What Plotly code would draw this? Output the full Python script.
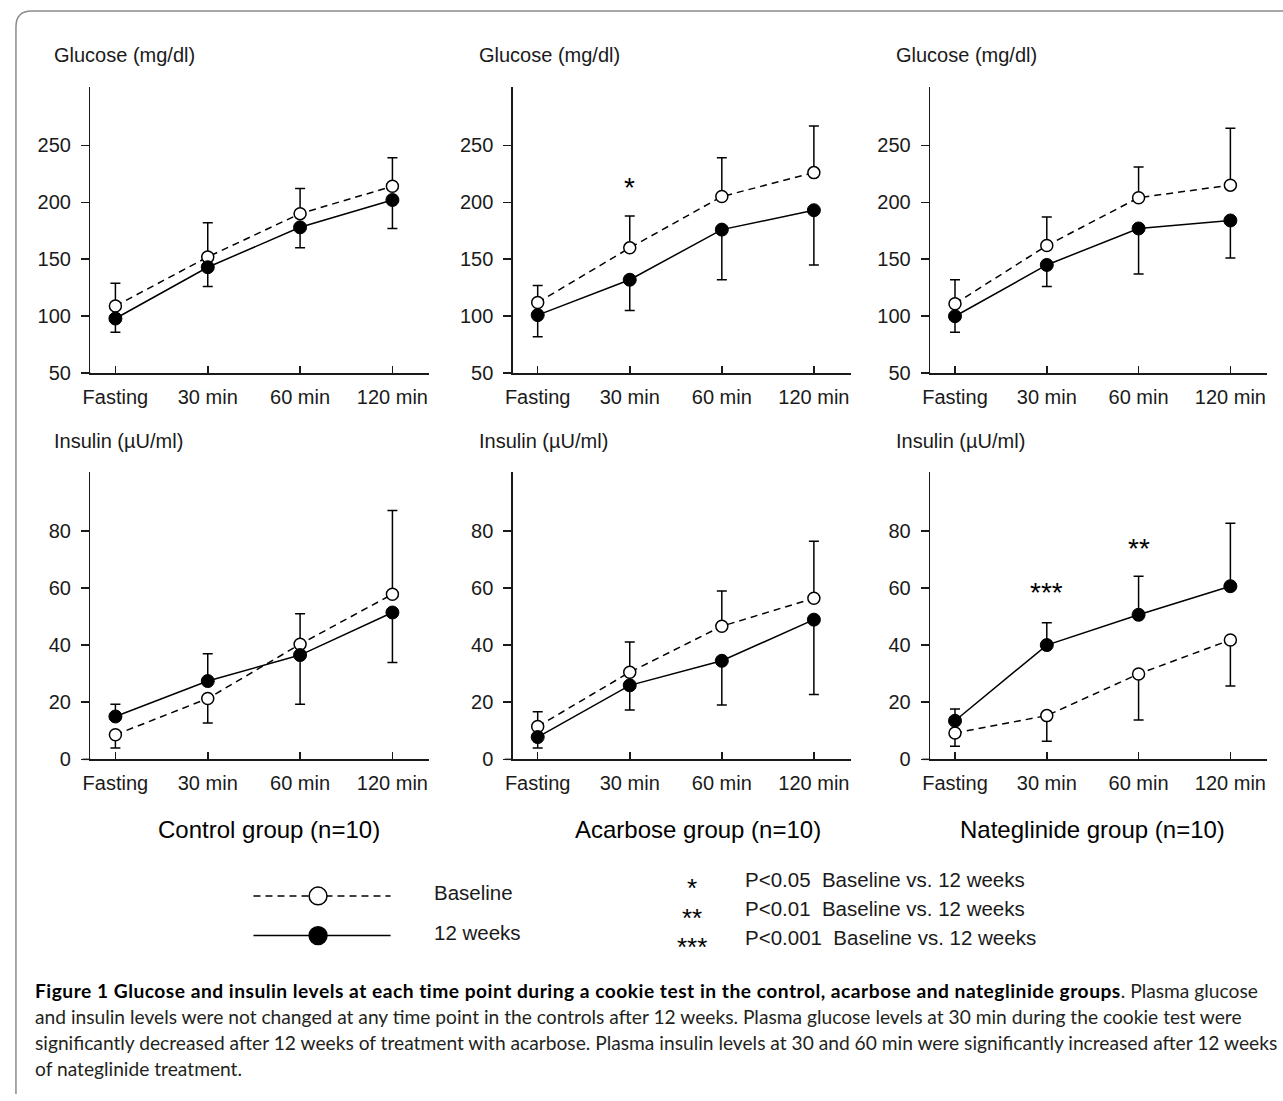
import plotly.graph_objects as go

W, H = 1283, 1101

# ---------------- data ----------------
categories = ["Fasting", "30 min", "60 min", "120 min"]
glucose_ticks = [50, 100, 150, 200, 250]
insulin_ticks = [0, 20, 40, 60, 80]

# Glucose (mg/dl): means and one-sided error extents
control_glu_base = [109, 152, 190, 214]
control_glu_base_err = [20, 30, 22, 25]
control_glu_12w = [98, 143, 178, 202]
control_glu_12w_err = [12, 17, 18, 25]

acarbose_glu_base = [112, 160, 205, 226]
acarbose_glu_base_err = [15, 28, 34, 41]
acarbose_glu_12w = [101, 132, 176, 193]
acarbose_glu_12w_err = [19, 27, 44, 48]

nateglinide_glu_base = [111, 162, 204, 215]
nateglinide_glu_base_err = [21, 25, 27, 50]
nateglinide_glu_12w = [100, 145, 177, 184]
nateglinide_glu_12w_err = [14, 19, 40, 33]

# Insulin (uU/ml)
control_ins_base = [8.6, 21.3, 40.3, 57.8]
control_ins_base_err = [4.6, 8.6, 10.7, 29.3]
control_ins_12w = [15.0, 27.4, 36.5, 51.4]
control_ins_12w_err = [4.3, 9.6, 17.2, 17.5]

acarbose_ins_base = [11.5, 30.5, 46.6, 56.4]
acarbose_ins_base_err = [5.2, 10.6, 12.3, 19.9]
acarbose_ins_12w = [7.8, 25.9, 34.5, 48.9]
acarbose_ins_12w_err = [3.8, 8.6, 15.5, 26.2]

nateglinide_ins_base = [9.2, 15.3, 29.9, 41.8]
nateglinide_ins_base_err = [4.6, 9.0, 16.1, 16.1]
nateglinide_ins_12w = [13.5, 40.0, 50.6, 60.6]
nateglinide_ins_12w_err = [4.1, 7.8, 13.5, 22.0]

group_labels = ["Control group (n=10)", "Acarbose group (n=10)", "Nateglinide group (n=10)"]
series_names = ["Baseline", "12 weeks"]
sig_labels = ["*", "**", "***"]
sig_texts = ["P<0.05  Baseline vs. 12 weeks", "P<0.01  Baseline vs. 12 weeks",
             "P<0.001  Baseline vs. 12 weeks"]
# significance markers: (panel index, category, y value, label)
sig_marks = [(1, "30 min", 218, "*"), (5, "30 min", 60.6, "***"), (5, "60 min", 76, "**")]

caption_bold = "Figure 1 Glucose and insulin levels at each time point during a cookie test in the control, acarbose and nateglinide groups"
caption_lines = [
    ". Plasma glucose",
    "and insulin levels were not changed at any time point in the controls after 12 weeks. Plasma glucose levels at 30 min during the cookie test were",
    "significantly decreased after 12 weeks of treatment with acarbose. Plasma insulin levels at 30 and 60 min were significantly increased after 12 weeks",
    "of nateglinide treatment.",
]

panels = [
    (control_glu_base, control_glu_base_err, control_glu_12w, control_glu_12w_err),
    (acarbose_glu_base, acarbose_glu_base_err, acarbose_glu_12w, acarbose_glu_12w_err),
    (nateglinide_glu_base, nateglinide_glu_base_err, nateglinide_glu_12w, nateglinide_glu_12w_err),
    (control_ins_base, control_ins_base_err, control_ins_12w, control_ins_12w_err),
    (acarbose_ins_base, acarbose_ins_base_err, acarbose_ins_12w, acarbose_ins_12w_err),
    (nateglinide_ins_base, nateglinide_ins_base_err, nateglinide_ins_12w, nateglinide_ins_12w_err),
]

# ---------------- layout helpers ----------------
def px(x):
    return x / W

def py(y):
    return 1 - y / H

FONT = "Liberation Sans, Arial, sans-serif"
CAPFONT = "Lato, Open Sans, sans-serif"
INK = "#1a1a1a"

col_px = [(83, 424), (508, 848), (928, 1267)]
row_px = [(88, 377), (477, 767)]
title_x = [44, 472, 892]
title_y = [56, 445]
group_x = [263, 694, 1091]

fig = go.Figure()
layout = dict(
    width=W, height=H, margin=dict(l=0, r=0, t=0, b=0),
    paper_bgcolor="white", plot_bgcolor="white", showlegend=False,
    font=dict(family=FONT, color=INK),
)
annotations = []
shapes = []

for p, (b, be, w, we) in enumerate(panels):
    r, c = divmod(p, 3)
    idx = "" if p == 0 else str(p + 1)
    xa, ya = "x" + idx, "y" + idx
    up_base = [bv >= wv for bv, wv in zip(b, w)]
    fig.add_trace(go.Scatter(
        x=categories, y=b, xaxis=xa, yaxis=ya, mode="lines+markers",
        name=series_names[0],
        line=dict(color="black", width=1.5, dash="7px,5px"),
        marker=dict(size=12, color="white", line=dict(color="black", width=1.5)),
        error_y=dict(type="data", symmetric=False,
                     array=[e if u else 0 for e, u in zip(be, up_base)],
                     arrayminus=[0 if u else e for e, u in zip(be, up_base)],
                     color="black", thickness=1.5, width=5),
    ))
    fig.add_trace(go.Scatter(
        x=categories, y=w, xaxis=xa, yaxis=ya, mode="lines+markers",
        name=series_names[1],
        line=dict(color="black", width=1.5),
        marker=dict(size=13, color="black", line=dict(color="black", width=1)),
        error_y=dict(type="data", symmetric=False,
                     array=[0 if u else e for e, u in zip(we, up_base)],
                     arrayminus=[e if u else 0 for e, u in zip(we, up_base)],
                     color="black", thickness=1.5, width=5),
    ))
    x0, x1 = col_px[c]
    y0, y1 = row_px[r]
    ticks = glucose_ticks if r == 0 else insulin_ticks
    yr = [50, 301] if r == 0 else [0, 100.5]
    layout["xaxis" + idx] = dict(
        domain=[px(x0), px(x1)], anchor=ya, type="category",
        categoryorder="array", categoryarray=categories,
        range=[-0.27, 3.40], showgrid=False, zeroline=False,
        showline=True, linecolor=INK, linewidth=1.5,
        ticks="inside", ticklen=7, tickwidth=1.5, tickcolor=INK,
        tickfont=dict(size=20, family=FONT, color=INK), ticklabelstandoff=5,
        fixedrange=True,
    )
    layout["yaxis" + idx] = dict(
        domain=[py(y1), py(y0)], anchor=xa, range=yr,
        tickvals=ticks, showgrid=False, zeroline=False,
        showline=True, linecolor=INK, linewidth=1.5,
        ticks="outside", ticklen=8, tickwidth=1.5, tickcolor=INK,
        tickfont=dict(size=20, family=FONT, color=INK), ticklabelstandoff=6,
        fixedrange=True,
    )
    # the x-axis line pokes a little to the left of the y-axis in the original
    shapes.append(dict(type="line", xref="paper", yref="paper",
                       x0=px(x0 - 8), x1=px(x0), y0=py(y1), y1=py(y1),
                       line=dict(color=INK, width=1.5)))
    annotations.append(dict(
        x=px(title_x[c]), y=py(title_y[r]), xref="paper", yref="paper",
        xanchor="left", yanchor="middle", showarrow=False,
        text="Glucose (mg/dl)" if r == 0 else "Insulin (µU/ml)",
        font=dict(size=20, family=FONT, color=INK),
    ))

for (p, cat, yv, lab) in sig_marks:
    idx = "" if p == 0 else str(p + 1)
    annotations.append(dict(
        x=cat, y=yv, xref="x" + idx, yref="y" + idx, showarrow=False,
        text=lab, yanchor="middle", yshift=-6,
        font=dict(size=28, family=FONT, color="black"),
    ))

for c in range(3):
    annotations.append(dict(
        x=px(group_x[c]), y=py(838), xref="paper", yref="paper",
        xanchor="center", yanchor="middle", showarrow=False,
        text=group_labels[c], font=dict(size=24, family=FONT, color="black"),
    ))

# ---- legend (drawn manually) ----
leg_rows = [905, 945]
for i, yy in enumerate(leg_rows):
    shapes.append(dict(type="line", xref="paper", yref="paper",
                       x0=px(247), x1=px(385), y0=py(yy), y1=py(yy),
                       line=dict(color="black", width=1.5,
                                 dash="7px,5px" if i == 0 else "solid")))
    shapes.append(dict(type="circle", xref="paper", yref="paper",
                       x0=px(303), x1=px(321), y0=py(yy + 9), y1=py(yy - 9),
                       fillcolor="white" if i == 0 else "black",
                       line=dict(color="black", width=1.5)))
    annotations.append(dict(
        x=px(427), y=py(yy - 3), xref="paper", yref="paper", xanchor="left",
        yanchor="middle", showarrow=False, text=series_names[i],
        font=dict(size=20.5, family=FONT, color=INK)))

sig_rows = [888, 918, 947]
for i, yy in enumerate(sig_rows):
    annotations.append(dict(
        x=px(688), y=py(yy + 3), xref="paper", yref="paper", xanchor="center",
        yanchor="middle", yshift=-6, showarrow=False, text=sig_labels[i],
        font=dict(size=26, family=FONT, color="black")))
    annotations.append(dict(
        x=px(740), y=py(yy), xref="paper", yref="paper", xanchor="left",
        yanchor="middle", showarrow=False, text=sig_texts[i],
        font=dict(size=20.5, family=FONT, color=INK)))

# ---- caption ----
cap_y = [1001, 1027, 1053, 1079]
for i, line in enumerate(caption_lines):
    text = line
    if i == 0:
        text = ("<span style='font-weight:bold;letter-spacing:0.5px;color:#000'>"
                + caption_bold + "</span>" + line)
    annotations.append(dict(
        x=px(25), y=py(cap_y[i]), xref="paper", yref="paper", xanchor="left",
        yanchor="middle", showarrow=False, text=text,
        font=dict(size=19.2, family=CAPFONT, color="#231f20")))

# ---- frame with rounded corner ----
rr = 16
shapes.append(dict(
    type="path", xref="paper", yref="paper",
    path=(f"M {px(8)},{py(1105)} L {px(8)},{py(11 + rr)} "
          f"Q {px(8)},{py(11)} {px(8 + rr)},{py(11)} L {px(1290)},{py(11)}"),
    line=dict(color="#8c8c8c", width=1.5),
))

layout["annotations"] = annotations
layout["shapes"] = shapes
fig.update_layout(**layout)

reset_css = ("document.documentElement.style.margin='0';"
             "document.body.style.margin='0';document.body.style.padding='0';"
             "document.body.style.overflow='hidden';")
fig.write_html("out.html", config={"staticPlot": True}, post_script=reset_css)
